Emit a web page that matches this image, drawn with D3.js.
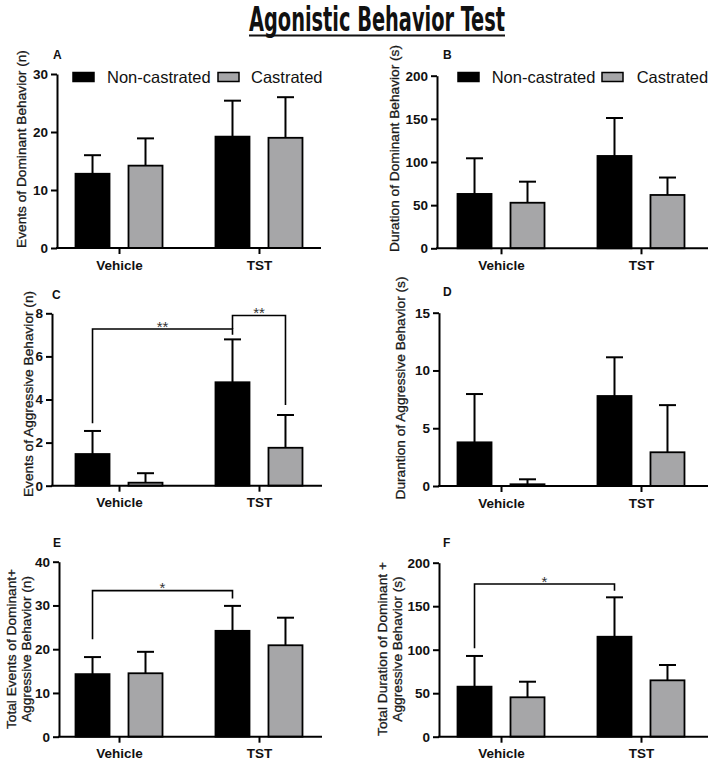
<!DOCTYPE html>
<html><head><meta charset="utf-8">
<script src="https://cdn.jsdelivr.net/npm/d3@7"></script>
<style>body{margin:0;background:#fff}</style>
</head><body><svg id="c" width="708" height="760"></svg>
<script>
// ---------- DATA ----------
const groups = ["Vehicle", "TST"];
const series = ["Non-castrated", "Castrated"];
const seriesColors = ["#000000", "#a6a6a8"];

const titleText = "Agonistic Behavior Test";

// Panel A: Events of Dominant Behavior (n)
const aNonMean = [12.8, 19.2], aNonErr = [3.2, 6.2];
const aCasMean = [14.2, 19.0], aCasErr = [4.7, 7.0];
const aTicks = [0, 10, 20, 30];
// Panel B: Duration of Dominant Behavior (s)
const bNonMean = [63, 107], bNonErr = [41.3, 44];
const bCasMean = [52.8, 61.8], bCasErr = [24.4, 20.2];
const bTicks = [0, 50, 100, 150, 200];
// Panel C: Events of Aggressive Behavior (n)
const cNonMean = [1.47, 4.8], cNonErr = [1.07, 1.99];
const cCasMean = [0.14, 1.76], cCasErr = [0.44, 1.52];
const cTicks = [0, 2, 4, 6, 8];
// Panel D: Duration of Aggressive Behavior (s)
const dNonMean = [3.78, 7.79], dNonErr = [4.18, 3.35];
const dCasMean = [0.15, 2.92], dCasErr = [0.43, 4.08];
const dTicks = [0, 5, 10, 15];
// Panel E: Total events
const eNonMean = [14.3, 24.2], eNonErr = [3.9, 5.7];
const eCasMean = [14.5, 20.9], eCasErr = [4.9, 6.3];
const eTicks = [0, 10, 20, 30, 40];
// Panel F: Total duration
const fNonMean = [57.5, 114.9], fNonErr = [35.3, 45.3];
const fCasMean = [45.3, 64.8], fCasErr = [17.9, 17.6];
const fTicks = [0, 50, 100, 150, 200];

// significance brackets: [fromGroup, fromSeries, toGroup, toSeries, leftEnd, top, rightEnd, label]
const cBrackets = [
  ["Vehicle", "Non-castrated", "TST", "Non-castrated", 2.9, 7.27, 7.0, "**"],
  ["TST", "Non-castrated", "TST", "Castrated", 7.27, 7.9, 3.75, "**"]
];
const eBrackets = [["Vehicle", "Non-castrated", "TST", "Non-castrated", 22.3, 33.4, 31.6, "*"]];
const fBrackets = [["Vehicle", "Non-castrated", "TST", "Non-castrated", 101.6, 175.5, 167.8, "*"]];

// ---------- LAYOUT ----------
const FONT = "'Liberation Sans', Arial, Helvetica, sans-serif";
const svg = d3.select("#c");

const panels = [
  {letter: "A", nm: aNonMean, ne: aNonErr, cm: aCasMean, ce: aCasErr, ticks: aTicks,
   axisX: 57, yTop: 74, yBot: 248, xr: [57, 321], xEnd: 321, lx: 53, ly: 59,
   ylab: ["Events of Dominant Behavior (n)"], ylx: [21.5], yly: 149,
   legend: [73, 107, 218, 251], brackets: []},
  {letter: "B", nm: bNonMean, ne: bNonErr, cm: bCasMean, ce: bCasErr, ticks: bTicks,
   axisX: 437, yTop: 75.7, yBot: 248.3, xr: [439, 703], xEnd: 708, lx: 443, ly: 59,
   ylab: ["Duration of Dominant Behavior (s)"], ylx: [394], yly: 148.5,
   legend: [458, 491.7, 602, 636.7], brackets: []},
  {letter: "C", nm: cNonMean, ne: cNonErr, cm: cCasMean, ce: cCasErr, ticks: cTicks,
   axisX: 52, yTop: 313.3, yBot: 485.7, xr: [57, 321], xEnd: 322, lx: 52, ly: 299,
   ylab: ["Events of Aggressive Behavior (n)"], ylx: [28], yly: 394,
   legend: null, brackets: cBrackets},
  {letter: "D", nm: dNonMean, ne: dNonErr, cm: dCasMean, ce: dCasErr, ticks: dTicks,
   axisX: 439, yTop: 312.7, yBot: 486, xr: [439, 703], xEnd: 708, lx: 443, ly: 296,
   ylab: ["Durantion of Aggressive Behavior (s)"], ylx: [400.5], yly: 388,
   legend: null, brackets: []},
  {letter: "E", nm: eNonMean, ne: eNonErr, cm: eCasMean, ce: eCasErr, ticks: eTicks,
   axisX: 59, yTop: 561.7, yBot: 736.7, xr: [57, 321], xEnd: 322, lx: 53, ly: 547,
   ylab: ["Total Events of Dominant+", "Aggressive Behavior (n)"], ylx: [11, 26], yly: 649,
   legend: null, brackets: eBrackets},
  {letter: "F", nm: fNonMean, ne: fNonErr, cm: fCasMean, ce: fCasErr, ticks: fTicks,
   axisX: 439, yTop: 562.7, yBot: 736.7, xr: [439, 703], xEnd: 708, lx: 443, ly: 547,
   ylab: ["Total Duration of Dominant +", "Aggressive Behavior (s)"], ylx: [382, 397], yly: 649,
   legend: null, brackets: fBrackets}
];

// ---------- TITLE ----------
svg.append("text")
  .attr("x", 377).attr("y", 31)
  .attr("text-anchor", "middle")
  .attr("font-family", "'Liberation Sans Narrow', 'DejaVu Sans Condensed', sans-serif")
  .attr("font-weight", "bold").attr("font-size", 33)
  .attr("textLength", 256).attr("lengthAdjust", "spacingAndGlyphs")
  .attr("fill", "#111")
  .text(titleText);
svg.append("line").attr("x1", 249).attr("x2", 505).attr("y1", 35.5).attr("y2", 35.5)
  .attr("stroke", "#111").attr("stroke-width", 1.8);

// ---------- PANELS ----------
panels.forEach(p => {
  const g = svg.append("g");
  const yMax = p.ticks[p.ticks.length - 1];
  const y = d3.scaleLinear().domain([0, yMax]).range([p.yBot, p.yTop]);
  const x0 = d3.scalePoint().domain(groups).range(p.xr).padding(0.443);
  const x1 = d3.scaleBand().domain(series).range([-43.5, 43.5]).paddingInner(0.358).paddingOuter(0);
  const color = d3.scaleOrdinal().domain(series).range(seriesColors);

  const rows = [];
  groups.forEach((grp, gi) => {
    rows.push({grp, s: series[0], mean: p.nm[gi], err: p.ne[gi]});
    rows.push({grp, s: series[1], mean: p.cm[gi], err: p.ce[gi]});
  });
  const cx = d => x0(d.grp) + x1(d.s) + x1.bandwidth() / 2;

  // error bars (upper only)
  g.selectAll(".eb").data(rows).join("line")
    .attr("x1", cx).attr("x2", cx)
    .attr("y1", d => y(d.mean)).attr("y2", d => y(d.mean + d.err))
    .attr("stroke", "#000").attr("stroke-width", 2);
  g.selectAll(".cap").data(rows).join("line")
    .attr("x1", d => cx(d) - x1.bandwidth() / 4).attr("x2", d => cx(d) + x1.bandwidth() / 4)
    .attr("y1", d => y(d.mean + d.err)).attr("y2", d => y(d.mean + d.err))
    .attr("stroke", "#000").attr("stroke-width", 2);

  // bars
  g.selectAll(".bar").data(rows).join("rect")
    .attr("x", d => x0(d.grp) + x1(d.s))
    .attr("width", x1.bandwidth())
    .attr("y", d => y(d.mean))
    .attr("height", d => y(0) - y(d.mean))
    .attr("fill", d => color(d.s))
    .attr("stroke", "#000").attr("stroke-width", 1.8);

  // y axis
  const ya = g.append("g").attr("transform", `translate(${p.axisX},0)`)
    .call(d3.axisLeft(y).tickValues(p.ticks).tickSize(6).tickPadding(3).tickSizeOuter(0));
  ya.select(".domain").attr("stroke-width", 2).attr("stroke", "#000");
  ya.selectAll(".tick line").attr("stroke-width", 2).attr("stroke", "#000");
  ya.selectAll(".tick text").attr("font-family", FONT).attr("font-weight", "bold")
    .attr("font-size", 13.5).attr("fill", "#111");

  // x axis
  const xa = g.append("g").attr("transform", `translate(0,${p.yBot})`)
    .call(d3.axisBottom(x0).tickSize(6).tickPadding(6).tickSizeOuter(0));
  xa.select(".domain").attr("d", `M${p.axisX - 1},0H${p.xEnd}`).attr("stroke-width", 2).attr("stroke", "#000");
  xa.selectAll(".tick line").attr("stroke-width", 2).attr("stroke", "#000");
  xa.selectAll(".tick text").attr("font-family", FONT).attr("font-weight", "bold")
    .attr("font-size", 13.5).attr("fill", "#111");

  // y label
  const yl = g.append("text")
    .attr("transform", `translate(0,${p.yly}) rotate(-90)`)
    .attr("text-anchor", "middle")
    .attr("font-family", FONT).attr("font-size", 13.7).attr("fill", "#1a1a1a")
    .attr("stroke", "#1a1a1a").attr("stroke-width", 0.3);
  p.ylab.forEach((t, i) => {
    yl.append("tspan").attr("x", 0).attr("y", p.ylx[i]).attr("dy", "0.35em").text(t);
  });

  // panel letter
  g.append("text").attr("x", p.lx).attr("y", p.ly)
    .attr("font-family", FONT).attr("font-weight", "bold").attr("font-size", 12)
    .attr("fill", "#111").text(p.letter);

  // legend
  if (p.legend) {
    const L = p.legend;
    [[L[0], L[1], 0], [L[2], L[3], 1]].forEach(([bx, tx, i]) => {
      g.append("rect").attr("x", bx).attr("y", 72.5).attr("width", 21).attr("height", 9)
        .attr("fill", seriesColors[i]).attr("stroke", "#000").attr("stroke-width", 1.5);
      g.append("text").attr("x", tx).attr("y", 82.5)
        .attr("font-family", FONT).attr("font-size", 16.5).attr("fill", "#111")
        .text(series[i]);
    });
  }

  // significance brackets
  p.brackets.forEach(b => {
    const xa1 = x0(b[0]) + x1(b[1]) + x1.bandwidth() / 2;
    const xa2 = x0(b[2]) + x1(b[3]) + x1.bandwidth() / 2;
    g.append("path")
      .attr("d", `M${xa1},${y(b[4])}V${y(b[5])}H${xa2}V${y(b[6])}`)
      .attr("fill", "none").attr("stroke", "#000").attr("stroke-width", 1.6);
    g.append("text").attr("x", (xa1 + xa2) / 2).attr("y", y(b[5]) + 2.5)
      .attr("text-anchor", "middle")
      .attr("font-family", FONT).attr("font-size", 15).attr("fill", "#333")
      .text(b[7]);
  });
});
</script>
</body></html>
